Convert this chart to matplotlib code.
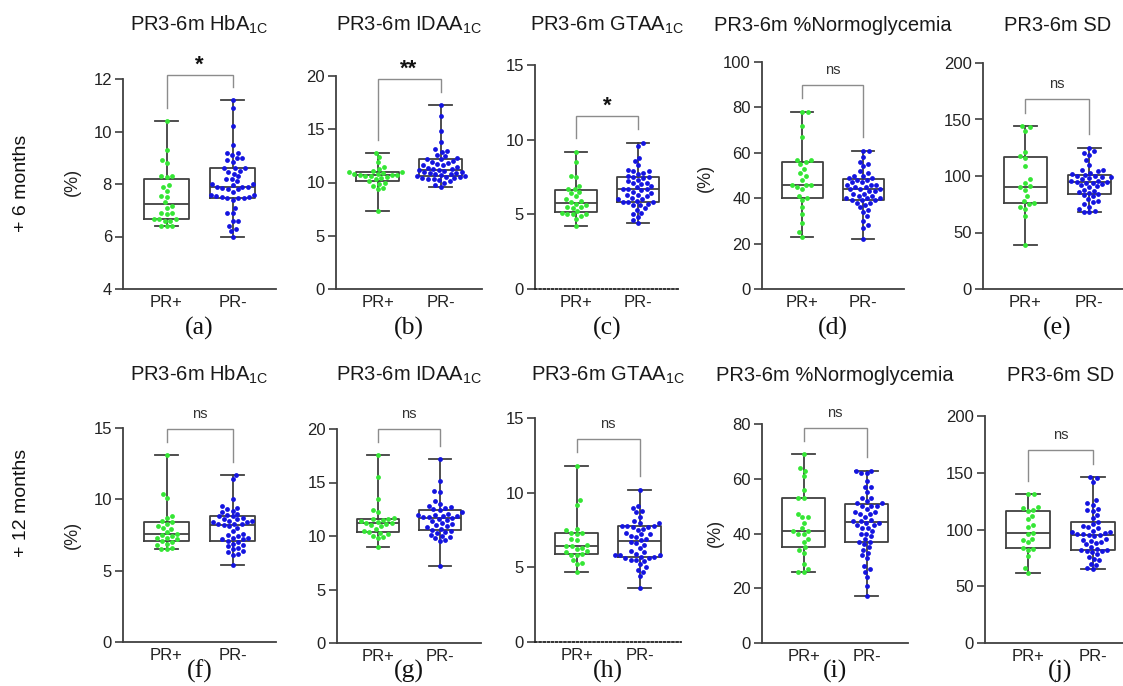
import numpy as np
import matplotlib
matplotlib.use('Agg')
import matplotlib.pyplot as plt
from matplotlib.transforms import offset_copy

plt.rcParams['font.family'] = ['Liberation Sans', 'DejaVu Sans']
plt.rcParams['mathtext.fontset'] = 'custom'
plt.rcParams['mathtext.rm'] = 'Liberation Sans'

W, H = 1123, 686
groups = ['PR+', 'PR-']
green = '#35e635'
blue = '#1414e0'
dark = '#404040'

# ---- datos (+6 meses) ----
a_pos = [10.4, 9.3, 8.9, 8.8, 8.3, 8.3, 8.25, 7.95, 7.9, 7.75, 7.55, 7.5, 7.3, 7.15, 7.1,
         6.9, 6.85, 6.9, 6.65, 6.65, 6.6, 6.6, 6.65, 6.4, 6.4, 6.4]
a_neg = [11.2, 10.9, 10.2, 9.5, 9.2, 9.2, 9.1, 9.0, 9.0, 8.9, 8.85, 8.6, 8.6, 8.6, 8.5, 8.45,
         8.4, 8.3, 8.2, 8.2, 8.1, 8.0, 8.0, 7.95, 7.9, 7.9, 7.9, 7.85, 7.8, 7.8, 7.7, 7.6, 7.6,
         7.55, 7.5, 7.5, 7.45, 7.45, 7.45, 7.4, 7.1, 6.9, 6.9, 6.6, 6.6, 6.4, 6.3, 6.2, 6.0]
b_pos = [12.8, 12.4, 11.9, 11.5, 11.3, 11.1, 11.0, 11.0, 10.9, 10.8, 10.8, 10.7, 10.7, 10.7,
         10.6, 10.6, 10.5, 10.4, 10.3, 10.1, 10.0, 9.9, 9.7, 9.5, 9.4, 7.3]
b_neg = [17.3, 16.2, 14.8, 13.8, 13.1, 13.0, 12.9, 12.6, 12.5, 12.3, 12.2, 12.2, 12.0, 11.9,
         11.8, 11.7, 11.6, 11.6, 11.5, 11.4, 11.3, 11.3, 11.2, 11.2, 11.1, 11.0, 11.0, 10.9,
         10.9, 10.8, 10.8, 10.7, 10.6, 10.6, 10.5, 10.5, 10.4, 10.4, 10.3, 10.3, 10.2, 10.1,
         10.0, 9.8, 9.6]
c_pos = [9.2, 8.5, 7.6, 7.5, 6.9, 6.7, 6.7, 6.5, 6.4, 6.2, 6.0, 5.9, 5.8, 5.7, 5.6, 5.5, 5.5,
         5.4, 5.2, 5.1, 5.0, 5.0, 5.0, 4.9, 4.7, 4.2]
c_neg = [9.8, 9.6, 8.8, 8.6, 8.3, 8.0, 7.9, 7.9, 7.8, 7.7, 7.6, 7.5, 7.5, 7.4, 7.3, 7.2, 7.1,
         7.1, 7.0, 6.9, 6.8, 6.7, 6.7, 6.7, 6.6, 6.5, 6.4, 6.3, 6.3, 6.2, 6.1, 6.0, 6.0, 5.9,
         5.85, 5.8, 5.8, 5.7, 5.6, 5.6, 5.4, 5.3, 5.1, 5.0, 4.8, 4.6, 4.4]
d_pos = [78, 78, 72, 67, 57, 57, 56, 55, 53, 51, 50, 48, 46, 46, 46, 45, 44, 41, 40, 39, 36,
         33, 29, 25, 23]
d_neg = [61, 61, 58, 56, 55, 54, 52, 51, 50, 50, 49, 49, 48, 48, 47, 47, 46, 46, 46, 45, 45,
         44, 44, 44, 43, 43, 42, 42, 41, 41, 40, 40, 40, 39, 39, 39, 38, 38, 37, 36, 35, 34,
         32, 30, 28, 27, 22]
e_pos = [144, 143, 140, 121, 118, 116, 109, 97, 94, 91, 90, 88, 82, 78, 76, 75, 73, 71, 65, 39]
e_neg = [125, 122, 120, 119, 114, 110, 105, 105, 104, 103, 102, 101, 100, 100, 99, 99, 98, 97,
         96, 96, 95, 95, 94, 94, 93, 92, 91, 90, 88, 87, 86, 85, 84, 83, 82, 80, 78, 77, 75,
         73, 71, 69, 68, 68]

# ---- datos (+12 meses) ----
f_pos = [13.1, 10.4, 10.1, 8.8, 8.7, 8.5, 8.4, 8.3, 8.1, 8.0, 7.9, 7.7, 7.6, 7.5, 7.4, 7.3,
         7.3, 7.2, 7.1, 7.0, 6.9, 6.8, 6.6, 6.5, 6.5]
f_neg = [11.7, 11.4, 10.0, 9.5, 9.4, 9.3, 9.2, 9.1, 9.0, 8.9, 8.8, 8.8, 8.7, 8.6, 8.6, 8.5,
         8.5, 8.4, 8.4, 8.3, 8.3, 8.25, 8.2, 8.1, 8.0, 7.8, 7.6, 7.5, 7.4, 7.3, 7.3, 7.2, 7.2,
         7.1, 7.0, 6.9, 6.8, 6.7, 6.6, 6.5, 6.4, 6.3, 6.2, 6.1, 5.4]
g_pos = [17.6, 15.5, 13.5, 12.4, 12.2, 11.7, 11.6, 11.6, 11.5, 11.4, 11.3, 11.2, 11.2, 11.1,
         11.0, 10.9, 10.7, 10.5, 10.4, 10.3, 10.2, 10.0, 9.9, 9.8, 9.0]
g_neg = [17.2, 15.1, 14.2, 14.1, 13.3, 13.0, 12.8, 12.7, 12.6, 12.5, 12.4, 12.2, 12.1, 12.0,
         12.0, 11.9, 11.9, 11.8, 11.8, 11.7, 11.6, 11.5, 11.4, 11.2, 11.1, 11.0, 10.9, 10.8,
         10.7, 10.6, 10.5, 10.4, 10.3, 10.1, 10.0, 9.9, 9.8, 9.6, 9.5, 7.2]
h_pos = [11.8, 9.5, 9.2, 7.6, 7.5, 7.3, 7.3, 7.2, 6.9, 6.8, 6.5, 6.4, 6.4, 6.3, 6.2, 6.1, 6.0,
         5.9, 5.85, 5.8, 5.5, 5.3, 5.2, 4.7]
h_neg = [10.2, 9.1, 9.0, 8.8, 8.7, 8.4, 8.1, 8.0, 8.0, 7.8, 7.8, 7.8, 7.7, 7.7, 7.6, 7.5, 7.3,
         7.2, 7.2, 7.1, 7.0, 6.9, 6.8, 6.7, 6.6, 6.5, 6.3, 6.1, 6.0, 5.9, 5.8, 5.8, 5.8, 5.7,
         5.7, 5.6, 5.6, 5.5, 5.5, 5.4, 5.2, 5.0, 4.8, 4.7, 4.4, 3.6]
i_pos = [69, 64, 63, 61, 56, 53, 53, 47, 46, 46, 44, 42, 41, 41, 40, 40, 38, 37, 35, 34, 33,
         29, 27, 26, 26]
i_neg = [63, 63, 62, 62, 59, 57, 57, 55, 53, 53, 52, 51, 51, 50, 50, 50, 49, 48, 48, 47, 47,
         46, 45, 44.5, 44.5, 44, 44, 43, 43, 42, 42, 41, 40, 40, 39, 38, 37, 37, 36, 35, 34,
         33, 32, 31, 28, 27, 26, 24, 21, 17]
j_pos = [131, 131, 120, 119, 117, 116, 112, 109, 104, 102, 97, 96, 92, 91, 89, 84, 83, 82,
         77, 66, 62]
j_neg = [146, 145, 142, 126, 123, 122, 118, 117, 116, 113, 110, 107, 105, 103, 102, 101, 99,
         98, 98, 97, 96, 96, 95, 95, 94, 92, 91, 90, 89, 88, 87, 85, 83, 82, 82, 81, 81, 80,
         78, 76, 74, 73, 70, 69, 66, 65]

titles = ['PR3-6m HbA$_{\\mathregular{1C}}$', 'PR3-6m IDAA$_{\\mathregular{1C}}$',
          'PR3-6m GTAA$_{\\mathregular{1C}}$', 'PR3-6m %Normoglycemia', 'PR3-6m SD']
significance = ['*', '**', '*', 'ns', 'ns', 'ns', 'ns', 'ns', 'ns', 'ns']
letters = ['(a)', '(b)', '(c)', '(d)', '(e)', '(f)', '(g)', '(h)', '(i)', '(j)']

# layout: datos, ylim, paso de ticks, base punteada, px izq., px por categoria, px arriba, px abajo
panels = [
    (a_pos, a_neg, (4, 12), 2, False, 123, 66, 79, 289),
    (b_pos, b_neg, (0, 20), 5, False, 336, 63, 76, 289),
    (c_pos, c_neg, (0, 15), 5, True, 535, 62, 65, 289),
    (d_pos, d_neg, (0, 100), 20, False, 762, 61, 62, 289),
    (e_pos, e_neg, (0, 200), 50, False, 983, 64, 63, 289),
    (f_pos, f_neg, (0, 15), 5, False, 123, 66, 428, 642),
    (g_pos, g_neg, (0, 20), 5, False, 337, 62, 429, 643),
    (h_pos, h_neg, (0, 15), 5, True, 535, 63, 418, 642),
    (i_pos, i_neg, (0, 80), 20, False, 762, 63, 424, 643),
    (j_pos, j_neg, (0, 200), 50, False, 985, 65, 416, 643),
]


def swarm(ax, xc, vals, d=5.6):
    pts = ax.transData.transform(np.column_stack([np.full(len(vals), xc), vals]))
    unit = ax.transData.transform([(1, 0)])[0][0] - ax.transData.transform([(0, 0)])[0][0]
    order = np.argsort(pts[:, 1], kind='stable')
    placed = []
    offs = np.zeros(len(vals))
    flip = 1
    for k in order:
        py = pts[k, 1]
        near = [(qx, qy) for qx, qy in placed if abs(qy - py) < d]
        cands = [0.0]
        for qx, qy in near:
            dx = np.sqrt(d * d - (qy - py) ** 2)
            cands += [qx + dx * flip, qx - dx * flip]
        cands.sort(key=abs)
        best = cands[-1]
        for c in cands:
            if all((c - qx) ** 2 + (py - qy) ** 2 >= d * d - 1e-6 for qx, qy in near):
                best = c
                break
        placed.append((best, py))
        offs[k] = best
        flip = -flip
    return xc + offs / unit


fig = plt.figure(figsize=(W / 100, H / 100), dpi=100)

for n, (pos, neg, ylim, step, dotted, lpx, upx, tpx, bpx) in enumerate(panels):
    ax = fig.add_axes([lpx / W, 1 - bpx / H, 2.32 * upx / W, (bpx - tpx) / H])

    lw = dict(color=dark, linewidth=1.3)
    ax.boxplot([pos, neg], positions=[0, 1], widths=0.67, whis=(0, 100),
               showfliers=False, capwidths=0.36, boxprops=lw, whiskerprops=lw,
               capprops=lw, medianprops=lw, zorder=2)

    ax.set_xlim(-0.66, 1.66)
    ax.set_ylim(*ylim)
    ax.set_yticks(np.arange(ylim[0], ylim[1] + step / 2, step))
    ax.set_xticks([0, 1])
    ax.set_xticklabels(groups)
    for s in ['top', 'right']:
        ax.spines[s].set_visible(False)
    for s in ['left', 'bottom']:
        ax.spines[s].set_color(dark)
        ax.spines[s].set_linewidth(1.3)
    if dotted:
        ax.spines['bottom'].set_linestyle((0, (1, 1.3)))
        ax.spines['bottom'].set_color('#222222')
    ax.tick_params(axis='y', length=6, width=1.2, color=dark, labelsize=12,
                   labelcolor='#222222', pad=2)
    ax.tick_params(axis='x', length=0, labelsize=12, labelcolor='#222222', pad=4)
    ax.patch.set_alpha(0)

    for xc, vals, col in [(0, pos, green), (1, neg, blue)]:
        xs = swarm(ax, xc, vals)
        ax.scatter(xs, vals, s=12, color=col, zorder=3, linewidths=0, clip_on=False)

    # corchete de significancia
    span = ylim[1] - ylim[0]
    top = max(max(pos), max(neg)) + 0.12 * span
    l1 = max(pos) + 0.06 * span
    l2 = max(neg) + 0.06 * span
    ax.plot([0, 0, 1, 1], [l1, top, top, l2], color='#8c8c8c', lw=1.0, clip_on=False,
            solid_joinstyle='miter')
    sig = significance[n]
    if sig == 'ns':
        tr = offset_copy(ax.transData, fig=fig, y=8, units='points')
        ax.text(0.5, top, sig, transform=tr, ha='center', va='baseline', fontsize=10.5,
                color='#333333')
    else:
        tr = offset_copy(ax.transData, fig=fig, y=3, units='points')
        ax.text(0.5, top, sig, transform=tr, ha='center', va='baseline', fontsize=16,
                fontweight='bold', color='#111111')

    # titulo y letra del panel
    row = n // 5
    cx = lpx + upx * 1.16
    ty = 31 if row == 0 else 381
    fig.text(cx / W, 1 - ty / H, titles[n % 5], ha='center', va='baseline',
             fontsize=14.5, color='#1a1a1a')
    ly = 328 if row == 0 else 671
    fig.text(cx / W, 1 - ly / H, letters[n], ha='center', va='center', fontsize=18.5,
             family='Liberation Serif', color='#111111')

for xy in [(72, 182), (705, 178), (72, 535), (715, 533)]:
    fig.text(xy[0] / W, 1 - xy[1] / H, '(%)', rotation=90, ha='center', va='center',
             fontsize=13, color='#222222')

fig.text(22 / W, 1 - 183 / H, '+ 6 months', rotation=90, ha='center', va='center',
         fontsize=14, color='#111111')
fig.text(22 / W, 1 - 503 / H, '+ 12 months', rotation=90, ha='center', va='center',
         fontsize=14, color='#111111')

fig.savefig('out.png', dpi=100, facecolor='white')
